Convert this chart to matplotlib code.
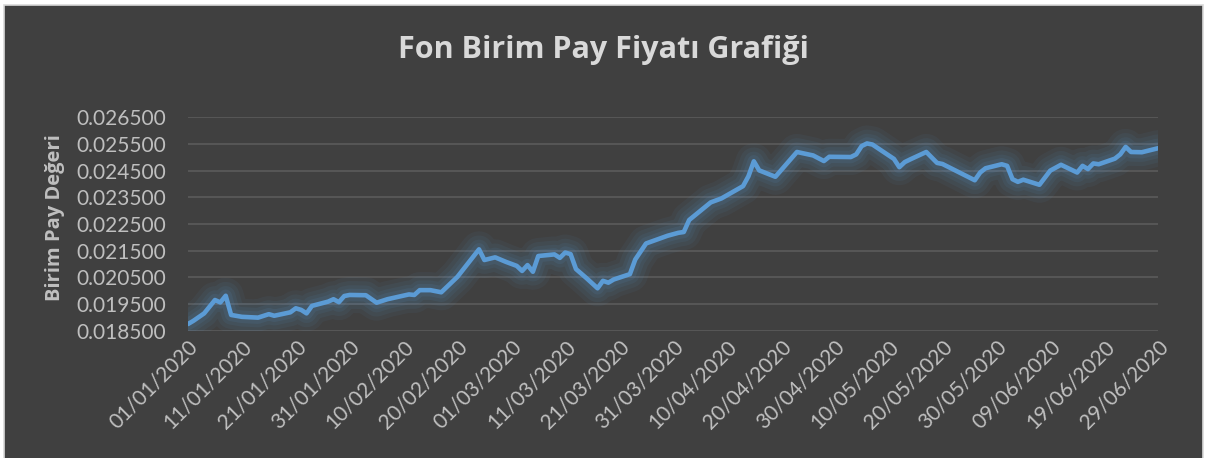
import matplotlib
matplotlib.use("Agg")
import matplotlib.pyplot as plt
from matplotlib.patches import Rectangle
import pandas as pd

# --- Dados ---
dates = [
    "2020-01-01", "2020-01-02", "2020-01-04", "2020-01-06", "2020-01-07", "2020-01-08",
    "2020-01-09", "2020-01-11", "2020-01-14", "2020-01-16", "2020-01-17", "2020-01-20",
    "2020-01-21", "2020-01-22", "2020-01-23", "2020-01-24", "2020-01-27", "2020-01-28",
    "2020-01-29", "2020-01-30", "2020-01-31", "2020-02-03", "2020-02-05", "2020-02-07",
    "2020-02-11", "2020-02-12", "2020-02-13", "2020-02-15", "2020-02-17", "2020-02-20",
    "2020-02-24", "2020-02-25", "2020-02-27", "2020-02-29", "2020-03-02", "2020-03-03",
    "2020-03-04", "2020-03-05", "2020-03-06", "2020-03-09", "2020-03-10", "2020-03-11",
    "2020-03-12", "2020-03-13", "2020-03-15", "2020-03-17", "2020-03-18", "2020-03-19",
    "2020-03-20", "2020-03-23", "2020-03-24", "2020-03-26", "2020-03-30", "2020-04-01",
    "2020-04-02", "2020-04-03", "2020-04-07", "2020-04-09", "2020-04-13", "2020-04-14",
    "2020-04-15", "2020-04-16", "2020-04-19", "2020-04-23", "2020-04-26", "2020-04-28",
    "2020-04-29", "2020-05-03", "2020-05-04", "2020-05-05", "2020-05-06", "2020-05-07",
    "2020-05-11", "2020-05-12", "2020-05-13", "2020-05-14", "2020-05-17", "2020-05-19",
    "2020-05-20", "2020-05-26", "2020-05-27", "2020-05-28", "2020-05-31", "2020-06-01",
    "2020-06-02", "2020-06-03", "2020-06-04", "2020-06-07", "2020-06-09", "2020-06-11",
    "2020-06-14", "2020-06-15", "2020-06-16", "2020-06-17", "2020-06-18", "2020-06-21",
    "2020-06-22", "2020-06-23", "2020-06-24", "2020-06-26", "2020-06-29",
]
prices = [
    0.01875, 0.01887, 0.01915, 0.01965, 0.01956, 0.01981,
    0.01909, 0.01902, 0.01899, 0.01912, 0.01906, 0.01919,
    0.01934, 0.01928, 0.01915, 0.01943, 0.01959, 0.01968,
    0.01957, 0.01980, 0.01984, 0.01983, 0.01955, 0.01968,
    0.01986, 0.01984, 0.02002, 0.02002, 0.01994, 0.02052,
    0.02155, 0.02115, 0.02125, 0.02108, 0.02093, 0.02074,
    0.02096, 0.02071, 0.02130, 0.02136, 0.02123, 0.02143,
    0.02137, 0.02081, 0.02046, 0.02009, 0.02037, 0.02030,
    0.02042, 0.02062, 0.02117, 0.02177, 0.02206, 0.02217,
    0.02220, 0.02265, 0.02331, 0.02346, 0.02392, 0.02429,
    0.02485, 0.02451, 0.02427, 0.02520, 0.02507, 0.02486,
    0.02502, 0.02501, 0.02511, 0.02542, 0.02552, 0.02548,
    0.02494, 0.02463, 0.02482, 0.02492, 0.02520, 0.02479,
    0.02475, 0.02414, 0.02443, 0.02459, 0.02474, 0.02468,
    0.02418, 0.02408, 0.02416, 0.02397, 0.02450, 0.02472,
    0.02443, 0.02468, 0.02456, 0.02477, 0.02474, 0.02495,
    0.02511, 0.02539, 0.02520, 0.02519, 0.02534,
]
y_ticks = [0.0185, 0.0195, 0.0205, 0.0215, 0.0225, 0.0235, 0.0245, 0.0255, 0.0265]
x_ticks = pd.date_range("2020-01-01", "2020-06-29", freq="10D")

title = "Fon Birim Pay Fiyatı Grafiği"
y_label = "Birim Pay Değeri"

# --- Estilo ---
bg = "#404040"
text_col = "#d9d9d9"
tick_col = "#bfbfbf"
grid_col = "#575757"
line_col = "#5b9bd5"

df = pd.DataFrame({"date": pd.to_datetime(dates), "price": prices})

fig = plt.figure(figsize=(12.07, 4.58), dpi=100)
fig.patch.set_facecolor("white")
# moldura do grafico (estilo Excel)
frame = Rectangle((4 / 1207, -0.05), 1199 / 1207, 1.05 - 5 / 458,
                  transform=fig.transFigure, facecolor=bg,
                  edgecolor="#d9d9d9", linewidth=1.2, zorder=-10)
fig.patches.append(frame)

ax = fig.add_axes([188 / 1207, (458 - 330.7) / 458, 970 / 1207, 213.4 / 458])
ax.set_zorder(1)
ax.set_facecolor(bg)
for s in ax.spines.values():
    s.set_visible(False)

ax.set_ylim(y_ticks[0], y_ticks[-1])
ax.set_xlim(pd.Timestamp("2020-01-01"), pd.Timestamp("2020-06-29"))
ax.set_yticks(y_ticks)
ax.set_yticklabels([f"{v:.6f}" for v in y_ticks], fontfamily="Lato",
                   fontsize=15, color=tick_col)
ax.set_xticks(x_ticks)
ax.set_xticklabels([d.strftime("%d/%m/%Y") for d in x_ticks], fontfamily="Lato",
                   fontsize=15, color=tick_col, rotation=45, ha="right",
                   va="top", rotation_mode="anchor")
ax.tick_params(axis="both", length=0)
ax.tick_params(axis="y", pad=16)
ax.tick_params(axis="x", pad=4)
ax.grid(axis="y", color=grid_col, linewidth=1.4)
ax.set_axisbelow(True)

# brilho suave em volta da linha
for lw, a in [(26, 0.06), (20, 0.07), (14, 0.08), (9, 0.10)]:
    ax.plot(df["date"], df["price"], color=line_col, linewidth=lw, alpha=a,
            solid_joinstyle="round", solid_capstyle="round")
ax.plot(df["date"], df["price"], color=line_col, linewidth=3.3,
        solid_joinstyle="round", solid_capstyle="round")

ax.set_ylabel(y_label, fontfamily="Open Sans", fontweight="bold", fontsize=14.5,
              color=tick_col)
ax.yaxis.set_label_coords(-123 / 970, (330.7 - 217.5) / 213.4)
fig.text(0.5, 1 - 50 / 458, title, ha="center", va="center",
         fontfamily="Open Sans", fontweight="bold", fontsize=22, color=text_col)

fig.savefig("out.png", dpi=100, facecolor=fig.get_facecolor())
